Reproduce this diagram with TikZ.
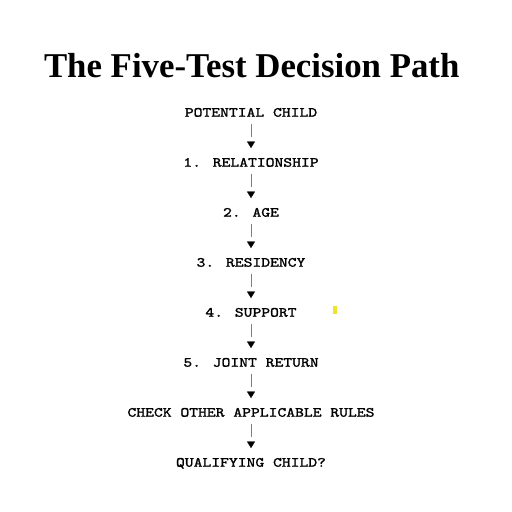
\documentclass[tikz,border=0pt]{standalone}
\usepackage{fontspec}
\setmainfont{Liberation Serif}
\newfontfamily\stepfont{lmmono10-regular.otf}[FakeStretch=1.2, FakeBold=1.5]
\usetikzlibrary{arrows.meta}
\definecolor{linegray}{RGB}{128,128,128}
\definecolor{marker}{RGB}{240,228,40}
\begin{document}
\begin{tikzpicture}[x=1pt,y=1pt,
  titlenode/.style={font=\fontsize{34.8}{40}\selectfont\bfseries, inner sep=0pt, anchor=base},
  stepbox/.style={font=\stepfont\fontsize{14}{16}\selectfont, inner sep=0pt, text height=8.4pt, text depth=0pt, anchor=base},
  vline/.style={draw=linegray, line width=1pt, shorten <=6.7pt, shorten >=21pt},
  vtip/.style={-{Triangle[length=6.6pt,width=8pt]}, draw=black, fill=black, shorten <=25pt, shorten >=10pt}]
\useasboundingbox (0,0) rectangle (512,-512);
\fill[white] (0,0) rectangle (512,-512);
\node[titlenode] (title) at (251.7,-77.7) {The Five-Test Decision Path};
\node[stepbox] (s0) at (251,-116.7) {POTENTIAL CHILD};
\node[stepbox] (s1) at (251,-166.7) {1. RELATIONSHIP};
\node[stepbox] (s2) at (251,-216.7) {2. AGE};
\node[stepbox] (s3) at (251,-266.7) {3. RESIDENCY};
\node[stepbox] (s4) at (251,-316.7) {4. SUPPORT};
\node[stepbox] (s5) at (251,-366.7) {5. JOINT RETURN};
\node[stepbox] (s6) at (251,-416.7) {CHECK OTHER APPLICABLE RULES};
\node[stepbox] (s7) at (251,-466.7) {QUALIFYING CHILD?};
\foreach \a/\b in {s0/s1,s1/s2,s2/s3,s3/s4,s4/s5,s5/s6,s6/s7}{
  \draw[vline] (\a) -- (\b);
  \draw[vtip] (\a) -- (\b);
}
\fill[marker] (333.3,-306) rectangle (336.7,-314);
\end{tikzpicture}
\end{document}
